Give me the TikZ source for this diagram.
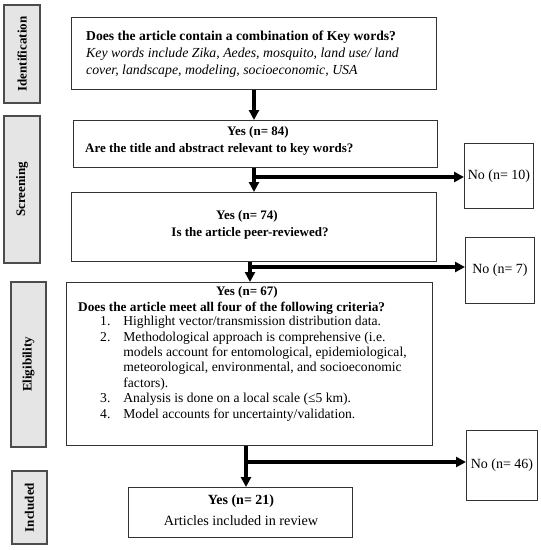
\documentclass[tikz,border=0pt]{standalone}
\usepackage{fontspec}
\setmainfont{Liberation Serif}
\usetikzlibrary{positioning}
\usetikzlibrary{arrows.meta}

\begin{document}
\begin{tikzpicture}[x=1pt,y=-1pt,
    box/.style={draw=black!80,line width=0.9pt,inner sep=0pt,anchor=north west},
    stage/.style={draw=black!70,fill=black!10,line width=1.6pt,inner sep=0pt,rotate=90,font=\bfseries\fontsize{13}{15}\selectfont},
    flow/.style={line width=3.2pt,-{Triangle[length=10pt,width=10pt]}},
    lbl/.style={inner sep=0pt,anchor=base},
    hd/.style={lbl,font=\bfseries\fontsize{13}{15}\selectfont},
    nobox/.style={box,font=\fontsize{14}{16}\selectfont}]
    \useasboundingbox (0,0) rectangle (541,550);

    % stages on the left
    \foreach \name/\x/\y/\w/\h/\lab in {ident/4/5/36/98/Identification,screen/4/116/36/147/Screening,elig/11/282/35/165/Eligibility,incl/12/471/35/73/Included}{
        \node[stage,minimum width=\h,minimum height=\w] (\name) at ({\x+\w/2},{\y+\h/2}) {\lab};
    }

    % main boxes
    \node[box,minimum width=365,minimum height=72] (kw) at (71,17) {};
    \node[box,minimum width=364,minimum height=47] (title) at (73,120) {};
    \node[box,minimum width=365,minimum height=69] (peer) at (71,192) {};
    \node[box,minimum width=366,minimum height=163] (crit) at (66,282) {};
    \node[box,minimum width=224,minimum height=50] (review) at (128,487) {};

    \node[nobox,minimum width=69,minimum height=65] (no1) at (464,143) {No (n= 10)};
    \node[nobox,minimum width=69,minimum height=66] (no2) at (465,237) {No (n= 7)};
    \node[nobox,minimum width=71,minimum height=70] (no3) at (466,430) {No (n= 46)};

    % texts
    \node[lbl,anchor=base west,font=\bfseries\fontsize{13.6}{16}\selectfont] (kwq) at (86,40) {Does the article contain a combination of Key words?};
    \node[lbl,anchor=base west,font=\itshape\fontsize{13.8}{16}\selectfont] (kwa) at (86,57) {Key words include Zika, Aedes, mosquito, land use/ land};
    \node[lbl,anchor=base west,font=\itshape\fontsize{13.8}{16}\selectfont] (kwb) at (86,74) {cover, landscape, modeling, socioeconomic, USA};

    \node[hd] (yes84) at (258,135) {Yes (n= 84)};
    \node[hd,anchor=base west] (q2) at (85,152) {Are the title and abstract relevant to key words?};

    \node[hd] (yes74) at (247,219) {Yes (n= 74)};
    \node[hd] (q3) at (250,236) {Is the article peer-reviewed?};

    \node[hd] (yes67) at (247,295) {Yes (n= 67)};
    \node[hd,anchor=base west,font=\bfseries\fontsize{13.3}{15}\selectfont] (q4) at (78,311) {Does the article meet all four of the following criteria?};
    \node[lbl,anchor=base west,font=\fontsize{13.6}{15.4}\selectfont] (list) at (100,325.7) {%
        \begin{tabular}[t]{@{}r@{\hspace{13pt}}l@{}}
        1. & Highlight vector/transmission distribution data.\\
        2. & Methodological approach is comprehensive (i.e.\\
           & models account for entomological, epidemiological,\\
           & meteorological, environmental, and socioeconomic\\
           & factors).\\
        3. & Analysis is done on a local scale (≤5 km).\\
        4. & Model accounts for uncertainty/validation.
        \end{tabular}};

    \node[lbl,font=\bfseries\fontsize{14}{16}\selectfont] (yes21) at (241,504) {Yes (n= 21)};
    \node[lbl,font=\fontsize{14.2}{16}\selectfont] (incltext) at (241,525) {Articles included in review};

    % arrows
    \coordinate (c1) at (254,177);
    \coordinate (c2) at (250,267);
    \coordinate (c3) at (246,462);
    \draw[flow] (kw.south -| c1) -- (title.north -| c1);
    \draw[flow] (title.south -| c1) -- (peer.north -| c1);
    \draw[flow] (c1) -- (c1 -| no1.west);
    \draw[flow] (peer.south -| c2) -- (crit.north -| c2);
    \draw[flow] (c2) -- (c2 -| no2.west);
    \draw[flow] (crit.south -| c3) -- (review.north -| c3);
    \draw[flow] (c3) -- (c3 -| no3.west);
\end{tikzpicture}
\end{document}
